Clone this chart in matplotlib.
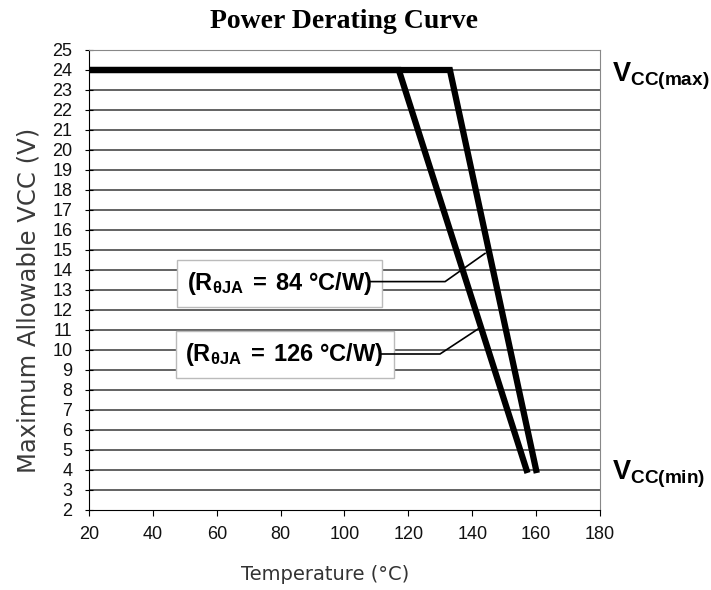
import matplotlib

matplotlib.use('Agg')
import matplotlib.pyplot as plt
import numpy as np

plt.rcParams['font.family'] = ['Liberation Sans', 'DejaVu Sans']
plt.rcParams['mathtext.fontset'] = 'custom'
plt.rcParams['mathtext.rm'] = 'Liberation Sans'
plt.rcParams['mathtext.bf'] = 'Liberation Sans:bold'
plt.rcParams['mathtext.it'] = 'Liberation Sans:italic'

# derating curves (temperature degC, VCC V)
temp_84 = [20, 133, 160]
vcc_84 = [24, 24, 4]
temp_126 = [20, 117, 157]
vcc_126 = [24, 24, 4]

# leader lines from the labels to the curves
lead_84_x = [108, 131.5, 144]
lead_84_y = [13.42, 13.42, 14.83]
lead_126_x = [111.6, 129.9, 141.8]
lead_126_y = [9.8, 9.8, 11.05]

x_ticks = list(range(20, 181, 20))
y_ticks = list(range(2, 26))

fig = plt.figure(figsize=(7.11, 5.90), dpi=100)
ax = fig.add_axes([89 / 711, 80 / 590, 511 / 711, 460 / 590])

for v in y_ticks[1:]:
    ax.axhline(v, color='#383838', lw=1.1, zorder=1)

ax.plot(temp_84, vcc_84, color='black', lw=4.5, solid_joinstyle='miter', zorder=3)
ax.plot(temp_126, vcc_126, color='black', lw=4.5, solid_joinstyle='miter', zorder=3)

box = dict(boxstyle='square,pad=0.42', fc='white', ec='#bbbbbb', lw=1)
ax.text(79.6, 13.33, r'$\mathbf{(R_{θJA}\;=\;84\ °C/W)}$', fontsize=17,
        ha='center', va='center', bbox=box, zorder=5)
ax.text(81.3, 9.78, r'$\mathbf{(R_{θJA}\;=\;126\ °C/W)}$', fontsize=17,
        ha='center', va='center', bbox=box, zorder=5)
ax.plot(lead_84_x, lead_84_y, color='black', lw=1.2, zorder=6)
ax.plot(lead_126_x, lead_126_y, color='black', lw=1.2, zorder=6)

ax.text(183.7, 23.4, r'$\mathbf{V_{CC(max)}}$', fontsize=19.5, ha='left',
        va='baseline', clip_on=False)
ax.text(183.7, 3.5, r'$\mathbf{V_{CC(min)}}$', fontsize=19.5, ha='left',
        va='baseline', clip_on=False)

ax.set_xlim(20, 180)
ax.set_ylim(2, 25)
ax.set_xticks(x_ticks)
ax.set_yticks(y_ticks)
ax.tick_params(axis='x', direction='out', length=4.5, labelsize=13, pad=7,
               color='black', labelcolor='#111111')
ax.tick_params(axis='y', direction='inout', length=6, labelsize=13, pad=9,
               color='black', labelcolor='#111111')
for s in ['top', 'right']:
    ax.spines[s].set_color('#888888')
ax.spines['left'].set_color('black')
ax.spines['bottom'].set_color('black')

ax.set_xlabel('Temperature (°C)', fontsize=14, family='DejaVu Sans',
              color='#333333', va='center')
ax.xaxis.set_label_coords(0.462, -0.14)
ax.set_ylabel('Maximum Allowable VCC (V)', fontsize=17.5, family='DejaVu Sans',
              color='#3a3a3a', va='center')
ax.yaxis.set_label_coords(-0.118, 0.455)
fig.text(344.5 / 711, 1 - 22 / 590, 'Power Derating Curve', fontsize=20,
         fontweight='bold', family='Liberation Serif', ha='center', va='center')

plt.savefig('out.png', dpi=100)
